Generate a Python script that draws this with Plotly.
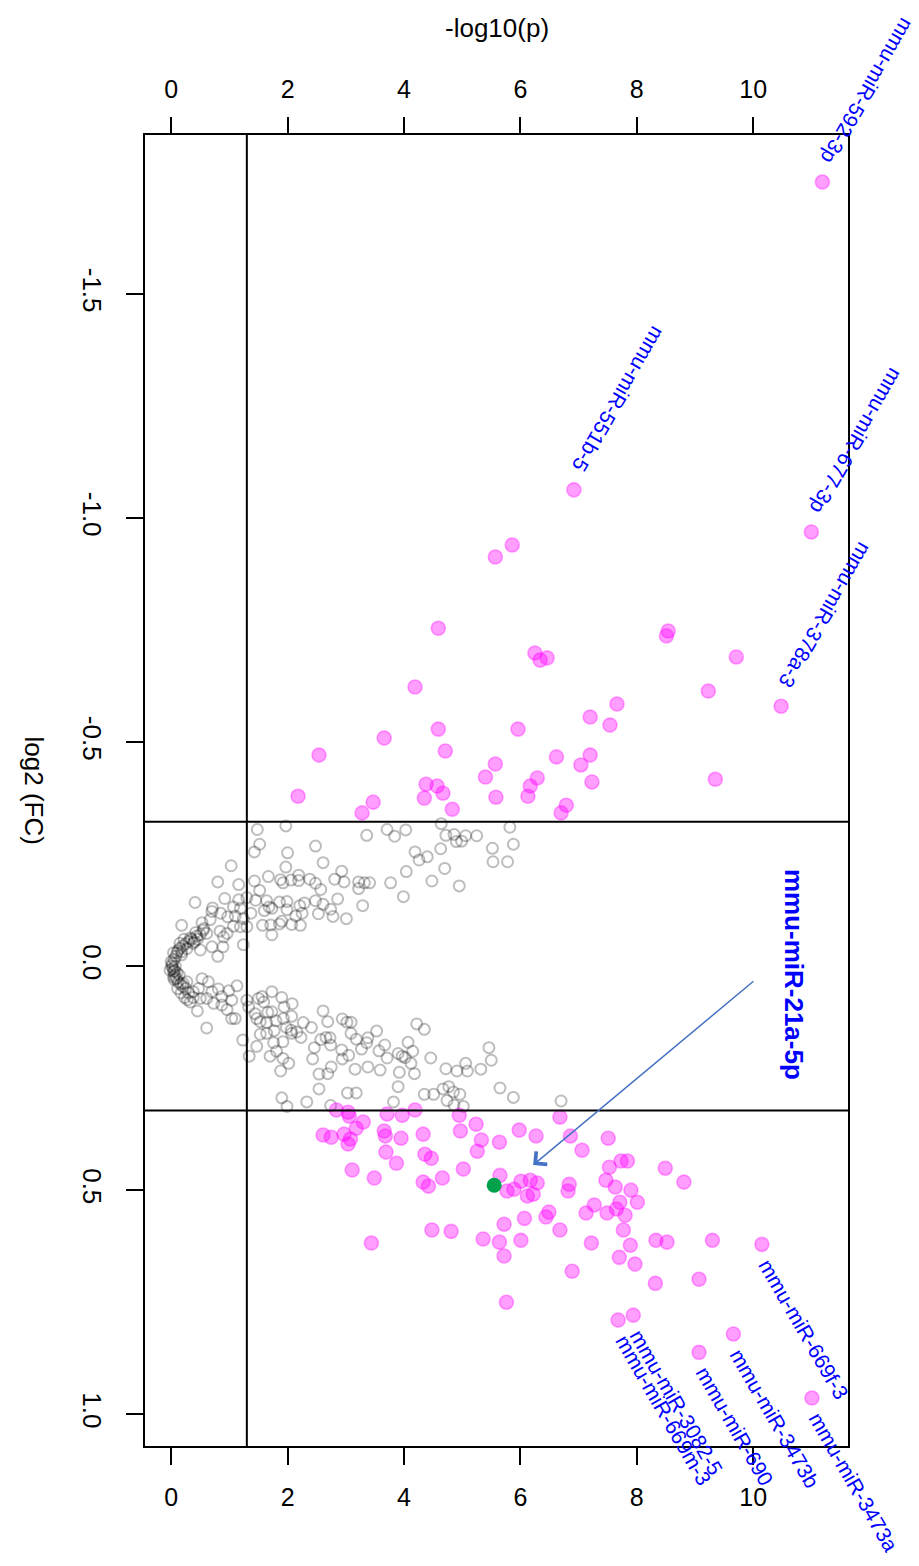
import plotly.graph_objects as go

# ---------------- data (x = -log10(p), y = log2(FC)) ----------------
grey_x = [1.48,1.97,1.43,1.52,2.00,2.48,2.61,1.97,1.03,3.36,3.71,3.84,4.03,4.64,4.72,4.86,4.90,4.99,5.06,5.25,
          5.82,5.88,5.52,5.53,5.78,4.63,4.19,4.26,4.40,4.70,4.04,2.93,2.81,2.97,3.22,3.22,3.32,3.41,3.77,4.48,
          4.95,3.99,3.29,0.80,1.16,1.43,1.67,1.52,1.88,1.92,2.06,2.19,2.19,2.38,2.48,2.57,2.86,2.48,2.61,2.74,
          2.78,3.01,2.53,0.41,0.71,0.92,1.16,1.07,1.19,1.30,1.45,1.64,1.86,1.99,1.99,1.68,1.60,1.73,2.21,2.29,
          2.25,2.14,2.07,2.22,1.90,1.86,1.73,1.57,1.71,1.37,1.24,1.30,1.10,0.97,0.85,0.70,0.67,0.53,0.18,0.56,
          0.44,0.61,0.84,0.90,0.96,1.07,1.19,1.24,0.80,0.70,0.89,0.50,0.33,0.15,0.27,0.38,0.18,
          0.02,0.03,0.05,0.04,0.08,0.06,0.10,0.09,0.12,0.12,0.15,0.16,0.20,0.20,0.25,0.25,0.30,0.30,0.01,0.00,
          0.07,0.05,0.14,0.18,0.22,0.35,0.40,0.45,0.28,0.33,0.38,0.42,0.50,0.55,0.06,0.10,0.04,0.11,0.17,0.23,
          -0.02,0.04,0.21,0.27,0.38,0.47,0.53,0.64,0.70,0.81,0.99,1.13,0.50,0.61,0.73,0.87,0.87,0.96,1.04,1.04,
          1.10,0.45,0.61,1.23,1.30,1.33,1.44,1.50,1.56,1.59,1.73,1.90,2.08,1.94,1.73,1.66,1.47,1.53,1.64,1.80,
          1.93,2.07,1.98,2.06,2.27,2.16,1.53,1.77,1.64,2.61,2.69,2.94,3.02,3.09,2.41,2.07,2.23,1.92,1.76,1.81,
          1.47,1.34,1.70,1.92,2.02,1.88,2.46,2.57,2.66,2.73,2.74,2.43,2.69,2.54,2.75,2.93,2.94,3.05,3.09,3.18,
          3.27,3.38,3.36,3.53,3.67,3.71,3.57,3.90,3.97,4.02,4.07,4.15,4.12,4.22,4.35,4.46,3.92,4.18,3.38,3.16,
          3.59,2.54,3.03,3.18,3.90,4.35,4.51,4.67,4.77,4.85,4.96,4.74,4.86,5.02,5.65,5.88,4.72,4.91,5.06,5.09,
          5.32,5.46,5.50,1.90,1.99,2.33,2.74,3.82,6.70]
grey_y = [-0.305,-0.313,-0.255,-0.272,-0.253,-0.268,-0.231,-0.221,-0.224,-0.292,-0.305,-0.290,-0.304,-0.318,-0.292,
          -0.294,-0.278,-0.279,-0.291,-0.291,-0.310,-0.272,-0.263,-0.233,-0.233,-0.262,-0.255,-0.237,-0.244,-0.218,
          -0.211,-0.212,-0.194,-0.188,-0.188,-0.173,-0.186,-0.186,-0.186,-0.190,-0.179,-0.155,-0.135,-0.188,-0.182,
          -0.190,-0.200,-0.169,-0.193,-0.186,-0.192,-0.203,-0.191,-0.194,-0.185,-0.171,-0.150,-0.146,-0.138,-0.127,
          -0.111,-0.106,-0.117,-0.142,-0.130,-0.151,-0.148,-0.132,-0.129,-0.153,-0.147,-0.146,-0.143,-0.144,-0.126,
          -0.132,-0.124,-0.129,-0.135,-0.141,-0.118,-0.112,-0.093,-0.091,-0.100,-0.094,-0.070,-0.091,-0.092,-0.118,
          -0.106,-0.088,-0.112,-0.110,-0.118,-0.122,-0.104,-0.097,-0.091,-0.084,-0.067,-0.073,-0.078,-0.065,-0.073,
          -0.089,-0.088,-0.048,-0.022,-0.043,-0.043,-0.036,-0.063,-0.051,-0.039,-0.051,-0.032,
          -0.005,0.005,-0.015,0.012,-0.022,0.020,-0.030,0.028,-0.035,0.035,-0.040,0.040,-0.045,0.045,-0.050,0.050,
          -0.055,0.060,0.000,-0.010,0.000,0.030,0.020,-0.025,-0.060,-0.060,-0.055,-0.060,0.075,0.080,0.070,-0.075,
          -0.070,-0.080,0.010,0.015,-0.030,0.050,0.060,0.070,
          0.009,0.024,0.039,0.035,0.057,0.050,0.028,0.035,0.057,0.051,0.055,0.044,0.072,0.072,0.083,0.068,0.087,
          0.097,0.076,0.117,0.117,0.100,0.138,0.165,0.076,0.091,0.106,0.072,0.068,0.080,0.057,0.070,0.084,0.091,
          0.102,0.103,0.117,0.124,0.126,0.122,0.117,0.112,0.137,0.143,0.126,0.147,0.152,0.144,0.150,0.100,0.124,
          0.118,0.125,0.125,0.137,0.150,0.159,0.169,0.171,0.190,0.179,0.201,0.201,0.206,0.217,0.234,0.182,0.164,
          0.159,0.160,0.176,0.207,0.240,0.241,0.225,0.187,0.207,0.199,0.150,0.163,0.185,0.160,0.171,0.145,0.176,
          0.205,0.189,0.195,0.201,0.204,0.170,0.190,0.217,0.129,0.141,0.205,0.237,0.240,0.225,0.230,0.232,0.274,
          0.283,0.283,0.269,0.286,0.286,0.274,0.269,0.281,0.286,0.300,0.310,0.313,0.272,0.293,0.229,0.234,0.217,
          0.234,0.230,0.182,0.210,0.294,0.313,0.303,0.311,0.303,0.301]

down_x = [11.19,6.92,11.00,10.48,5.57,5.86,4.59,6.25,6.34,6.46,8.51,8.54,9.71,9.23,4.19,7.66,7.20,7.54,4.59,5.96,
          3.66,4.71,2.54,5.57,6.62,7.20,7.04,5.40,6.29,9.35,4.38,4.57,4.67,6.17,7.23,2.18,4.35,5.58,6.13,3.47,
          6.79,3.28,4.83,6.70]
down_y = [-1.750,-1.063,-0.969,-0.580,-0.913,-0.940,-0.754,-0.699,-0.683,-0.688,-0.737,-0.748,-0.690,-0.614,
          -0.623,-0.585,-0.556,-0.538,-0.529,-0.529,-0.509,-0.480,-0.471,-0.451,-0.467,-0.471,-0.449,-0.422,-0.420,
          -0.417,-0.406,-0.402,-0.386,-0.402,-0.411,-0.379,-0.375,-0.377,-0.379,-0.366,-0.359,-0.342,-0.350,-0.342]

up_x = [2.84,3.04,3.06,3.71,3.97,4.19,4.95,6.68,3.30,3.18,5.24,4.97,5.98,6.27,6.86,7.51,2.61,2.75,2.97,3.08,
        3.04,3.66,3.68,3.95,4.33,5.33,5.64,5.26,7.06,3.69,4.36,4.47,3.87,7.73,7.84,7.53,8.49,8.81,3.11,3.49,
        4.66,5.02,5.65,4.33,4.42,5.77,5.89,6.01,6.17,6.29,6.12,6.22,6.84,6.82,7.47,7.63,7.90,7.71,7.65,8.01,
        7.27,7.13,7.49,7.80,6.49,6.44,6.07,5.72,6.68,7.77,4.48,4.81,5.36,5.64,6.01,7.22,7.89,8.33,8.52,9.30,
        10.15,3.44,5.72,7.70,7.97,6.89,8.32,9.07,5.76,7.68,7.94,9.66,9.07,11.01]
up_y = [0.321,0.326,0.335,0.330,0.333,0.321,0.333,0.337,0.348,0.362,0.353,0.368,0.366,0.379,0.379,0.384,0.377,
        0.382,0.375,0.386,0.397,0.368,0.379,0.384,0.375,0.388,0.393,0.413,0.411,0.415,0.420,0.429,0.440,0.435,
        0.435,0.449,0.451,0.482,0.455,0.473,0.473,0.453,0.467,0.482,0.491,0.502,0.498,0.480,0.478,0.484,0.513,
        0.509,0.487,0.502,0.478,0.493,0.500,0.527,0.542,0.527,0.533,0.551,0.551,0.556,0.549,0.560,0.563,0.576,
        0.589,0.589,0.589,0.592,0.609,0.616,0.612,0.618,0.623,0.612,0.616,0.612,0.621,0.618,0.647,0.650,0.665,
        0.681,0.708,0.699,0.750,0.790,0.779,0.821,0.862,0.964]

hl_name = "mmu-miR-21a-5p"
hl_x = [5.55]
hl_y = [0.489]

lab_up_names = ["mmu-miR-592-3p", "mmu-miR-551b-5", "mmu-miR-677-3p", "mmu-miR-378a-3"]
lab_up_x = [11.19, 6.92, 11.00, 10.48]
lab_up_y = [-1.750, -1.063, -0.969, -0.580]

lab_dn_names = ["mmu-miR-669f-3", "mmu-miR-3473a", "mmu-miR-3473b", "mmu-miR-690",
                "mmu-miR-3082-5", "mmu-miR-669m-3"]
lab_dn_x = [10.15, 11.01, 9.66, 9.07, 7.94, 7.68]
lab_dn_y = [0.621, 0.964, 0.821, 0.862, 0.779, 0.790]

p_cut = 1.3
fc_cut = 0.322
x_ticks = [0, 2, 4, 6, 8, 10]
y_ticks = [-1.5, -1.0, -0.5, 0.0, 0.5, 1.0]
y_tick_text = ["-1.5", "-1.0", "-0.5", "0.0", "0.5", "1.0"]
arrow_tip = (6.22, 0.444)
arrow_tail = (10.03, 0.031)
hl_label_pos = (10.69, 0.018)

FONT = "Liberation Sans, Arial, sans-serif"
BLUE = "#0000FF"

fig = go.Figure()
fig.add_trace(go.Scatter(x=grey_x, y=grey_y, mode="markers",
                         marker=dict(symbol="circle-open", size=11, color="rgba(0,0,0,0.26)",
                                     line=dict(width=2, color="rgba(0,0,0,0.26)")),
                         hoverinfo="skip", showlegend=False))
sig_x = down_x + up_x
sig_y = down_y + up_y
fig.add_trace(go.Scatter(x=sig_x, y=sig_y, mode="markers",
                         marker=dict(symbol="circle", size=14, color="rgba(255,0,255,0.38)",
                                     line=dict(width=1.6, color="rgba(255,0,255,0.35)")),
                         hoverinfo="skip", showlegend=False))
fig.add_trace(go.Scatter(x=hl_x, y=hl_y, mode="markers",
                         marker=dict(symbol="circle", size=15, color="#00A14B", line=dict(width=0)),
                         hoverinfo="skip", showlegend=False))
# invisible trace for top axis
fig.add_trace(go.Scatter(x=[0], y=[0], xaxis="x2", mode="markers",
                         marker=dict(opacity=0), hoverinfo="skip", showlegend=False))

# threshold lines
fig.add_shape(type="line", xref="x", yref="paper", x0=p_cut, x1=p_cut, y0=0, y1=1,
              line=dict(color="black", width=2))
for v in (-fc_cut, fc_cut):
    fig.add_shape(type="line", xref="paper", yref="y", x0=0, x1=1, y0=v, y1=v,
                  line=dict(color="black", width=2))

# labels
for n, x, y in zip(lab_up_names, lab_up_x, lab_up_y):
    fig.add_annotation(x=x, y=y, text=n, showarrow=False, textangle=120,
                       xanchor="left", yanchor="bottom", xshift=-9, yshift=12,
                       font=dict(family=FONT, size=21, color=BLUE))
for n, x, y in zip(lab_dn_names, lab_dn_x, lab_dn_y):
    fig.add_annotation(x=x, y=y, text=n, showarrow=False, textangle=60,
                       xanchor="left", yanchor="top", xshift=-10, yshift=-8,
                       font=dict(family=FONT, size=21, color=BLUE))

# highlight arrow + label
fig.add_annotation(x=arrow_tip[0], y=arrow_tip[1], ax=arrow_tail[0], ay=arrow_tail[1],
                   axref="x", ayref="y", xref="x", yref="y", text="", showarrow=True,
                   arrowhead=4, arrowsize=2.2, arrowwidth=1.5, arrowcolor="#4472C4")
fig.add_annotation(x=hl_label_pos[0], y=hl_label_pos[1], text="<b>" + hl_name + "</b>",
                   showarrow=False, textangle=90, xanchor="center", yanchor="middle",
                   font=dict(family=FONT, size=26, color=BLUE))

# axis titles
fig.add_annotation(xref="paper", yref="paper", x=0.5, y=1, yshift=107, text="-log10(p)",
                   showarrow=False, xanchor="center", yanchor="middle",
                   font=dict(family=FONT, size=26, color="black"))
fig.add_annotation(xref="paper", yref="paper", x=0, y=0.5, xshift=-111, text="log2 (FC)",
                   showarrow=False, textangle=90, xanchor="center", yanchor="middle",
                   font=dict(family=FONT, size=26, color="black"))

axis_common = dict(range=[-0.45, 11.63], tickvals=x_ticks, ticks="outside", ticklen=17,
                   tickwidth=2, tickcolor="black", showgrid=False, zeroline=False,
                   tickfont=dict(family=FONT, size=25, color="black"))
fig.update_layout(
    width=919, height=1566,
    margin=dict(l=137, r=79, t=127, b=128),
    paper_bgcolor="white", plot_bgcolor="white",
    xaxis=dict(**axis_common, showline=True, mirror=True, linecolor="black", linewidth=2,
               ticklabelstandoff=11),
    xaxis2=dict(**axis_common, overlaying="x", side="top", showline=False, ticklabelstandoff=9),
    yaxis=dict(range=[1.071, -1.855], tickvals=y_ticks, ticktext=y_tick_text, tickangle=90,
               ticks="outside", ticklen=17, tickwidth=2, tickcolor="black",
               showgrid=False, zeroline=False, showline=True, mirror=True,
               linecolor="black", linewidth=2, ticklabelstandoff=12,
               tickfont=dict(family=FONT, size=26, color="black")),
    font=dict(family=FONT),
)
fig.write_html("out.html")
